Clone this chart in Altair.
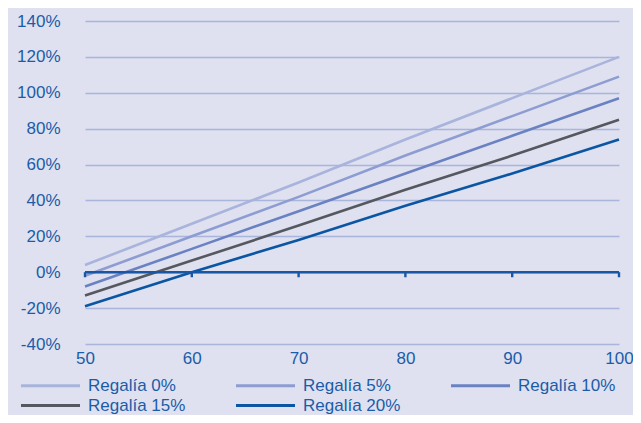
import altair as alt
import pandas as pd

x_vals = [50, 60, 70, 80, 90, 100]
series_names = ["Regalía 0%", "Regalía 5%", "Regalía 10%", "Regalía 15%", "Regalía 20%"]
reg0 = [4, 27, 50, 74, 97, 120]
reg5 = [-2, 20, 42, 65, 87, 109]
reg10 = [-8, 13, 34, 55, 76, 97]
reg15 = [-13, 6.5, 26, 46, 65, 85]
reg20 = [-19, 0, 18, 37, 55, 74]
colors = ["#a9b4dc", "#8d9dd2", "#6a82c2", "#55585f", "#0b56a3"]
y_ticks = [-40, -20, 0, 20, 40, 60, 80, 100, 120, 140]

rows = []
for name, vals in zip(series_names, [reg0, reg5, reg10, reg15, reg20]):
    for xv, yv in zip(x_vals, vals):
        rows.append({"x": xv, "y": yv / 100.0, "serie": name})
df = pd.DataFrame(rows)

text_color = "#1b5ca8"
font = "Liberation Sans"

xs = alt.Scale(domain=[50, 100], nice=False, zero=False)
ys = alt.Scale(domain=[-0.4, 1.4], nice=False)
x_axis = alt.Axis(values=x_vals, grid=False, domain=False, ticks=False,
                  labelPadding=6, labelOverlap=False, labelFlush=False, title=None)
y_axis = alt.Axis(values=[v / 100 for v in y_ticks],
                  labelExpr="round(datum.value*100) + '%'",
                  labelOverlap=False, labelFlush=False,
                  grid=True, gridColor="#a9b5db", gridWidth=1.3,
                  domain=False, ticks=False, labelPadding=25, title=None)

lines = alt.Chart(df).mark_line(strokeWidth=2.6).encode(
    x=alt.X("x:Q", scale=xs, axis=x_axis),
    y=alt.Y("y:Q", scale=ys, axis=y_axis),
    color=alt.Color("serie:N", sort=series_names,
                    scale=alt.Scale(domain=series_names, range=colors),
                    legend=alt.Legend(title=None, orient="none", legendX=-46, legendY=353,
                                      direction="horizontal",
                                      columns=3, symbolType="M-3,0H3", symbolSize=387,
                                      symbolStrokeWidth=3, labelOffset=26, columnPadding=43,
                                      rowPadding=0, gridAlign="all")),
    detail="serie:N",
)

zero_df = pd.DataFrame({"x": [50], "x2": [100], "y": [0.0]})
zero_line = alt.Chart(zero_df).mark_rule(color="#1857a5", strokeWidth=2.6).encode(
    x=alt.X("x:Q", scale=xs, axis=x_axis), x2="x2:Q", y=alt.Y("y:Q", scale=ys, axis=y_axis)
)
tick_df = pd.DataFrame({"x": x_vals, "y": [0.0] * 6, "y2": [-0.028] * 6})
ticks = alt.Chart(tick_df).mark_rule(color="#1857a5", strokeWidth=2.4).encode(
    x=alt.X("x:Q", scale=xs, axis=x_axis), y=alt.Y("y:Q", scale=ys, axis=y_axis), y2="y2:Q"
)

chart = alt.layer(lines, zero_line, ticks).properties(
    width=534, height=323,
    background="#dfe1f0",
    padding={"left": 77, "top": 13, "right": 14, "bottom": 71},
    autosize=alt.AutoSizeParams(type="none"),
).configure_view(stroke=None).configure_axis(
    labelFont=font, labelFontSize=17, labelColor=text_color
).configure_legend(
    labelFont=font, labelFontSize=17, labelColor=text_color
)

chart.save("out.html", embed_options={"renderer": "svg", "actions": False})
